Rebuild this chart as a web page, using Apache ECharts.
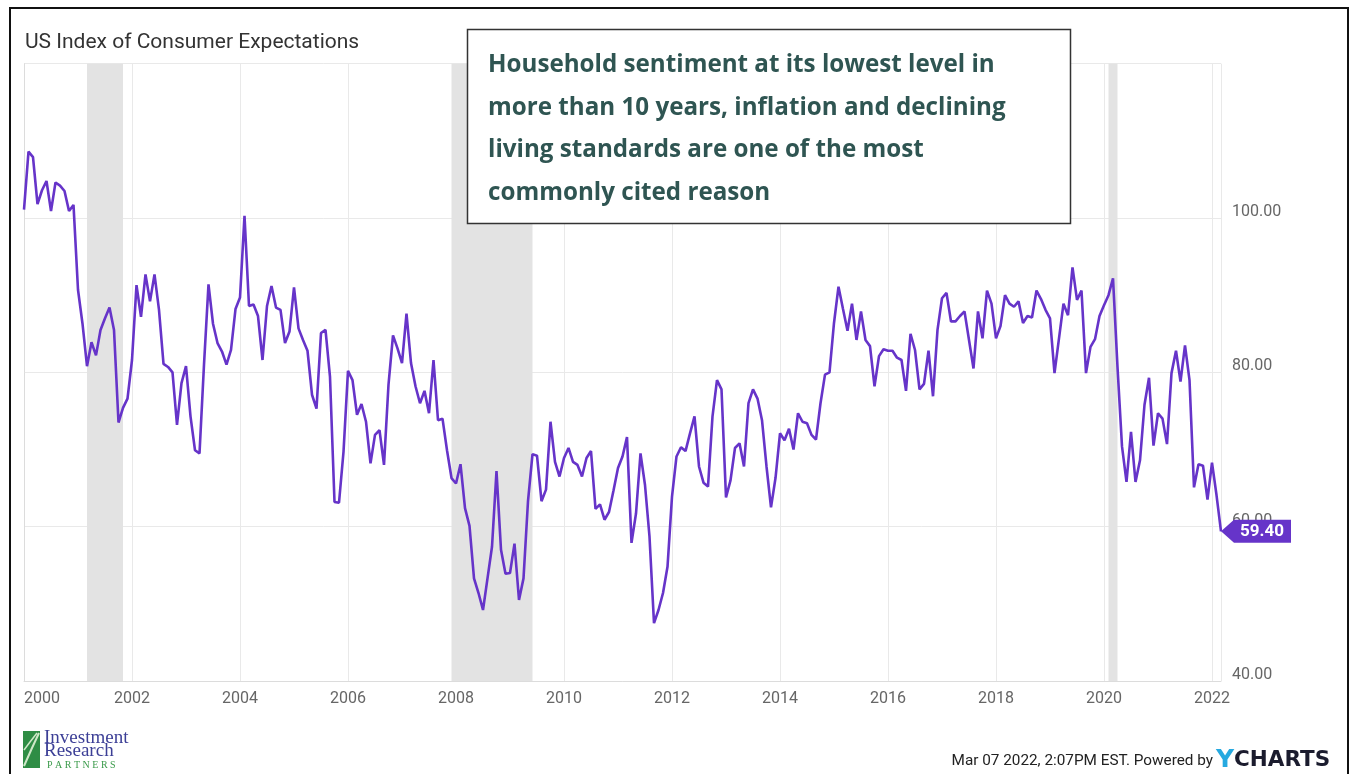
<!DOCTYPE html>
<html>
<head>
<meta charset="utf-8">
<title>US Index of Consumer Expectations</title>
<script src="https://cdn.jsdelivr.net/npm/echarts@6/dist/echarts.min.js"></script>
<style>
  html, body { margin: 0; padding: 0; background: #fff; }
  #chart { width: 1357px; height: 774px; }
</style>
</head>
<body>
<div id="chart"></div>
<script>
// monthly values, first point = Dec 1999 (month end), last point = Feb 2022
const expectations = [
  101.1,
  108.6, 107.9, 101.8, 103.6, 104.8, 100.9, 104.6, 104.2, 103.5, 100.9, 101.7, 90.7,
  86.3, 80.8, 83.9, 82.2, 85.5, 87.0, 88.4, 85.5, 73.5, 75.4, 76.6, 81.6,
  91.3, 87.2, 92.7, 89.2, 92.7, 88.1, 81.1, 80.7, 80.0, 73.2, 78.6, 80.8,
  74.3, 69.9, 69.5, 81.0, 91.4, 86.3, 83.8, 82.7, 81.0, 82.9, 88.2, 89.7,
  100.3, 88.6, 88.8, 87.3, 81.6, 88.6, 91.2, 88.4, 88.1, 83.8, 85.3, 91.0,
  85.7, 84.2, 82.8, 77.1, 75.3, 85.1, 85.5, 79.4, 63.2, 63.1, 69.7, 80.2,
  79.0, 74.5, 75.9, 73.6, 68.2, 71.9, 72.5, 68.0, 78.4, 84.8, 83.1, 81.2,
  87.6, 81.2, 78.2, 76.0, 77.6, 74.7, 81.6, 73.8, 74.0, 69.9, 66.3, 65.6,
  68.1, 62.4, 60.1, 53.3, 51.4, 49.2, 53.3, 57.4, 67.2, 57.0, 53.9, 54.0,
  57.8, 50.5, 53.3, 63.3, 69.4, 69.2, 63.3, 64.8, 73.6, 68.4, 66.5, 68.9,
  70.2, 68.4, 68.0, 66.5, 68.9, 69.8, 62.3, 62.9, 60.9, 61.9, 64.7, 67.6,
  69.1, 71.6, 57.9, 61.7, 69.5, 65.4, 58.7, 47.5, 49.2, 51.4, 54.8, 63.9,
  69.1, 70.3, 69.8, 72.1, 74.3, 67.8, 65.7, 65.2, 74.3, 79.0, 77.8, 63.8,
  66.0, 70.2, 70.8, 67.8, 76.0, 77.8, 76.6, 73.8, 67.8, 62.5, 66.3, 72.1,
  71.2, 72.7, 70.0, 74.7, 73.6, 73.4, 71.9, 71.3, 76.0, 79.7, 80.0, 86.4,
  91.1, 88.2, 85.4, 88.9, 84.2, 87.9, 84.2, 83.4, 78.2, 82.1, 83.0, 82.8,
  82.8, 81.9, 81.6, 77.6, 85.0, 82.9, 77.8, 78.5, 82.8, 76.9, 85.5, 89.6,
  90.3, 86.6, 86.6, 87.3, 87.9, 84.2, 80.5, 87.9, 84.4, 90.6, 88.9, 84.4,
  86.0, 90.0, 88.9, 88.5, 89.2, 86.4, 87.3, 87.1, 90.6, 89.5, 88.1, 87.0,
  79.9, 84.4, 88.9, 87.4, 93.6, 89.4, 90.6, 79.9, 83.3, 84.3, 87.3, 88.7,
  90.0, 92.2, 80.7, 70.4, 65.8, 72.3, 65.8, 68.6, 75.8, 79.3, 70.5, 74.7,
  74.0, 70.7, 79.9, 82.8, 78.8, 83.5, 79.0, 65.1, 68.1, 67.9, 63.5, 68.3,
  64.1, 59.4
];

const yearLabels = ['2000', '2002', '2004', '2006', '2008', '2010',
  '2012', '2014', '2016', '2018', '2020', '2022'];

// recession bands, in months counted from Jan 2000
const recessions = [[14, 22], [95, 113], [241, 243]];

const yMin = 40;
const yMax = 120;
const yStep = 20;

const noteLines = [
  'Household sentiment at its lowest level in',
  'more than 10 years, inflation and declining',
  'living standards are one of the most',
  'commonly cited reason'
];

const lineColor = '#6634c9';
const lastValue = expectations[expectations.length - 1];

const chart = echarts.init(document.getElementById('chart'));
chart.setOption({
  animation: false,
  backgroundColor: '#fff',
  textStyle: { fontFamily: 'Roboto' },
  title: {
    text: 'US Index of Consumer Expectations',
    left: 20,
    top: 27,
    textStyle: { fontSize: 21, fontWeight: 'normal', color: '#333', fontFamily: 'Roboto' }
  },
  grid: { left: 24, right: 136, top: 63.7, bottom: 93, containLabel: false },
  xAxis: {
    type: 'value',
    min: 0,
    max: expectations.length - 1,
    interval: 24,
    axisLine: { show: true, lineStyle: { color: '#dcdcdc' } },
    axisTick: { show: false },
    splitLine: { show: true, lineStyle: { color: '#e9e9e9' } },
    axisLabel: {
      color: '#666',
      fontSize: 16,
      margin: 10,
      alignMinLabel: 'left',
      formatter: v => (v % 24 === 0 ? yearLabels[v / 24] : '')
    }
  },
  yAxis: {
    type: 'value',
    position: 'right',
    min: yMin,
    max: yMax,
    interval: yStep,
    axisLine: { show: true, lineStyle: { color: '#dcdcdc' } },
    axisTick: { show: false },
    splitLine: { show: true, lineStyle: { color: '#e9e9e9' } },
    axisLabel: {
      color: '#666',
      fontSize: 16,
      lineHeight: 12,
      margin: 11,
      verticalAlign: 'bottom',
      showMaxLabel: false,
      formatter: v => v.toFixed(2)
    }
  },
  series: [{
    type: 'line',
    data: expectations.map((v, i) => [i, v]),
    symbol: 'none',
    lineStyle: { color: lineColor, width: 2.6 },
    z: 3,
    markArea: {
      silent: true,
      itemStyle: { color: '#e3e3e3' },
      data: recessions.map(r => [{ xAxis: r[0] }, { xAxis: r[1] }])
    },
    markPoint: {
      silent: true,
      symbol: 'path://M0,11.5L13,0L70,0L70,23L13,23Z',
      symbolSize: [70, 23],
      symbolOffset: [35, 0],
      itemStyle: { color: lineColor },
      label: {
        show: true,
        position: 'inside',
        offset: [6, 0],
        color: '#fff',
        fontSize: 17,
        fontWeight: 'bold',
        formatter: lastValue.toFixed(2)
      },
      data: [{ coord: [expectations.length - 1, lastValue] }]
    }
  }],
  graphic: [
    {
      type: 'rect',
      z: 100,
      shape: { x: 10, y: 8, width: 1338, height: 800 },
      style: { fill: 'none', stroke: '#111', lineWidth: 2 }
    },
    {
      type: 'rect',
      z: 50,
      shape: { x: 467.5, y: 29.5, width: 603, height: 194 },
      style: { fill: '#fff', stroke: '#333', lineWidth: 1.5 }
    },
    {
      type: 'text',
      z: 51,
      x: 488,
      y: 44,
      style: {
        text: noteLines.join('\n'),
        font: 'bold 24.2px "Open Sans"',
        lineHeight: 42.5,
        fill: '#2f5552',
        textVerticalAlign: 'top'
      }
    },
    // Investment Research Partners logo
    {
      type: 'rect',
      z: 20,
      shape: { x: 23, y: 731, width: 17, height: 37 },
      style: { fill: '#2f8d45' }
    },
    {
      type: 'polyline',
      z: 21,
      shape: { points: [[24, 766], [32, 748], [39, 733]] },
      style: { stroke: '#cfe8c8', lineWidth: 2, fill: 'none' }
    },
    {
      type: 'polyline',
      z: 21,
      shape: { points: [[24, 750], [30, 742], [37, 733]] },
      style: { stroke: '#cfe8c8', lineWidth: 1.5, fill: 'none' }
    },
    {
      type: 'text',
      z: 20,
      x: 44,
      y: 738,
      style: { text: 'Investment', font: '19px "Liberation Serif"', fill: '#3c3f96', textVerticalAlign: 'middle' }
    },
    {
      type: 'text',
      z: 20,
      x: 44,
      y: 751,
      style: { text: 'Research', font: '19px "Liberation Serif"', fill: '#3c3f96', textVerticalAlign: 'middle' }
    },
    {
      type: 'text',
      z: 20,
      x: 47,
      y: 765,
      style: { text: 'P A R T N E R S', font: '10px "Liberation Serif"', fill: '#3a9a4a', textVerticalAlign: 'middle' }
    },
    // footer
    {
      type: 'text',
      z: 20,
      x: 1213,
      y: 761,
      style: {
        text: 'Mar 07 2022, 2:07PM EST. Powered by',
        font: '15.3px Roboto',
        fill: '#222',
        textAlign: 'right',
        textVerticalAlign: 'middle'
      }
    },
    {
      type: 'text',
      z: 20,
      x: 1216,
      y: 760,
      style: { text: 'Y', font: 'bold 25px "DejaVu Sans"', fill: '#26a9e0', textVerticalAlign: 'middle' }
    },
    {
      type: 'text',
      z: 20,
      x: 1234,
      y: 760,
      style: { text: 'CHARTS', font: 'bold 21.5px "DejaVu Sans"', fill: '#1b1c2e', textVerticalAlign: 'middle' }
    }
  ]
});
</script>
</body>
</html>
